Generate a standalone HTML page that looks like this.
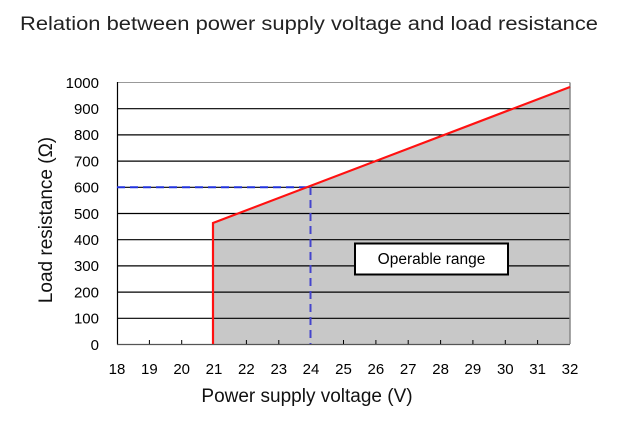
<!DOCTYPE html>
<html><head><meta charset="utf-8"><style>
html,body{margin:0;padding:0;background:#fff;width:628px;height:422px;overflow:hidden}
</style></head><body>
<svg width="628" height="422" xmlns="http://www.w3.org/2000/svg" font-family="Liberation Sans, sans-serif">
<text x="20" y="30" font-size="19" fill="#222" textLength="578" lengthAdjust="spacingAndGlyphs">Relation between power supply voltage and load resistance</text>
<!-- gray region -->
<polygon points="213,344 213,223 570,87 570,344" fill="#c8c8c8"/>
<!-- grid lines -->
<g stroke="#000" stroke-width="1.2">
<line x1="117" y1="108.7" x2="570" y2="108.7"/>
<line x1="117" y1="134.9" x2="570" y2="134.9"/>
<line x1="117" y1="161.1" x2="570" y2="161.1"/>
<line x1="117" y1="187.3" x2="570" y2="187.3"/>
<line x1="117" y1="213.5" x2="570" y2="213.5"/>
<line x1="117" y1="239.7" x2="570" y2="239.7"/>
<line x1="117" y1="265.9" x2="570" y2="265.9"/>
<line x1="117" y1="292.1" x2="570" y2="292.1"/>
<line x1="117" y1="318.3" x2="570" y2="318.3"/>
</g>
<line x1="117" y1="82.5" x2="570" y2="82.5" stroke="#999" stroke-width="1"/>
<line x1="570" y1="82.5" x2="570" y2="344" stroke="#888" stroke-width="1.5"/>
<line x1="117.5" y1="82" x2="117.5" y2="344.5" stroke="#000" stroke-width="1.2"/>
<line x1="117" y1="344.5" x2="570" y2="344.5" stroke="#555" stroke-width="1.2"/>
<g stroke="#000" stroke-width="1">
<line x1="149.4" y1="340" x2="149.4" y2="344"/><line x1="181.7" y1="340" x2="181.7" y2="344"/>
<line x1="246.4" y1="340" x2="246.4" y2="344"/><line x1="278.8" y1="340" x2="278.8" y2="344"/>
<line x1="343.5" y1="340" x2="343.5" y2="344"/><line x1="375.9" y1="340" x2="375.9" y2="344"/>
<line x1="408.2" y1="340" x2="408.2" y2="344"/><line x1="440.6" y1="340" x2="440.6" y2="344"/>
<line x1="472.9" y1="340" x2="472.9" y2="344"/><line x1="505.3" y1="340" x2="505.3" y2="344"/>
<line x1="537.6" y1="340" x2="537.6" y2="344"/>
</g>
<!-- dashed -->
<line x1="117" y1="187.3" x2="310" y2="187.3" stroke="#2233dd" stroke-width="2" stroke-dasharray="8,5"/>
<line x1="310.5" y1="187" x2="310.5" y2="344" stroke="#4444cc" stroke-width="2" stroke-dasharray="8,5"/>
<!-- red -->
<polyline points="213,344 213,223 570,87" fill="none" stroke="#ff1111" stroke-width="2.2"/>
<!-- box -->
<rect x="355" y="243.5" width="153" height="31" fill="#fff" stroke="#000" stroke-width="2"/>
<text x="431.5" y="264" font-size="15.5" text-anchor="middle" fill="#000">Operable range</text>
<!-- y labels -->
<g font-size="15" text-anchor="end" fill="#000">
<text x="99" y="88">1000</text><text x="99" y="114">900</text><text x="99" y="140">800</text>
<text x="99" y="166.5">700</text><text x="99" y="192.5">600</text><text x="99" y="219">500</text>
<text x="99" y="245">400</text><text x="99" y="271">300</text><text x="99" y="297.5">200</text>
<text x="99" y="323.5">100</text><text x="99" y="350">0</text>
</g>
<g font-size="15" text-anchor="middle" fill="#000">
<text x="117" y="374">18</text><text x="149.4" y="374">19</text><text x="181.7" y="374">20</text>
<text x="214" y="374">21</text><text x="246.4" y="374">22</text><text x="278.8" y="374">23</text>
<text x="311" y="374">24</text><text x="343.5" y="374">25</text><text x="375.9" y="374">26</text>
<text x="408.2" y="374">27</text><text x="440.6" y="374">28</text><text x="472.9" y="374">29</text>
<text x="505.3" y="374">30</text><text x="537.6" y="374">31</text><text x="570" y="374">32</text>
</g>
<text x="307" y="402" font-size="19" text-anchor="middle" fill="#111">Power supply voltage (V)</text>
<text transform="translate(52,220) rotate(-90)" font-size="19" text-anchor="middle" fill="#111">Load resistance (Ω)</text>
</svg>
</body></html>
